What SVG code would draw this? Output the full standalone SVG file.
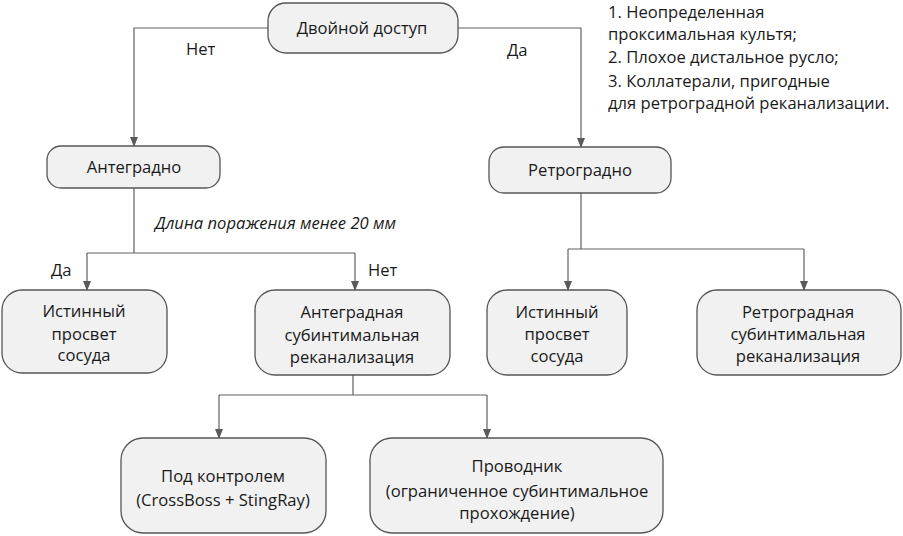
<svg xmlns="http://www.w3.org/2000/svg" width="903" height="536" viewBox="0 0 903 536">
<defs>
<marker id="arr" viewBox="0 0 10 10" refX="9" refY="5" markerWidth="10" markerHeight="10" markerUnits="userSpaceOnUse" orient="auto">
<path d="M0,1 L10,5 L0,9 Z" fill="#5a5a5a"/>
</marker>
<style>
.box{fill:#f1f1f1;stroke:#555;stroke-width:1.3}
.t{font-family:"Open Sans","Noto Sans",sans-serif;font-size:16.6px;fill:#1a1a1a}
.c{text-anchor:middle}
.ln{fill:none;stroke:#606060;stroke-width:1.2}
.i{font-style:italic}
</style>
</defs>
<rect width="903" height="536" fill="#fff"/>
<g id="connectors">
<path class="ln" d="M268,28 H134 V146" marker-end="url(#arr)"/>
<path class="ln" d="M458,28 H581 V147" marker-end="url(#arr)"/>
<path class="ln" d="M134,188 V253"/>
<path class="ln" d="M87,253 H355"/>
<path class="ln" d="M87,253 V290" marker-end="url(#arr)"/>
<path class="ln" d="M355,253 V290" marker-end="url(#arr)"/>
<path class="ln" d="M581,193 V249"/>
<path class="ln" d="M568,249 H804"/>
<path class="ln" d="M568,249 V290" marker-end="url(#arr)"/>
<path class="ln" d="M804,249 V290" marker-end="url(#arr)"/>
<path class="ln" d="M353,375 V395"/>
<path class="ln" d="M219,395 H487"/>
<path class="ln" d="M219,395 V438" marker-end="url(#arr)"/>
<path class="ln" d="M487,395 V438" marker-end="url(#arr)"/>
<text class="t" x="186" y="55">Нет</text>
<text class="t" x="507" y="56">Да</text>
<text class="t i" x="155" y="229">Длина поражения менее 20 мм</text>
<text class="t" x="51" y="276">Да</text>
<text class="t" x="368" y="276">Нет</text>
</g>
<g id="n-dual">
<rect class="box" x="268" y="3" width="190" height="50" rx="18"/>
<text class="t c" x="362" y="34">Двойной доступ</text>
</g>
<g id="n-notes">
<text class="t" x="608" y="18">1. Неопределенная</text>
<text class="t" x="608" y="40">проксимальная культя;</text>
<text class="t" x="608" y="63">2. Плохое дистальное русло;</text>
<text class="t" x="608" y="87">3. Коллатерали, пригодные</text>
<text class="t" x="608" y="109">для ретроградной реканализации.</text>
</g>
<g id="n-ante">
<rect class="box" x="47" y="146" width="173" height="42" rx="14"/>
<text class="t c" x="134" y="173">Антеградно</text>
</g>
<g id="n-retro">
<rect class="box" x="489" y="147" width="182" height="46" rx="15"/>
<text class="t c" x="580" y="176">Ретроградно</text>
</g>
<g id="n-true1">
<rect class="box" x="2" y="290" width="165" height="83" rx="20"/>
<text class="t c" x="84" y="317">Истинный</text>
<text class="t c" x="84" y="340">просвет</text>
<text class="t c" x="84" y="361">сосуда</text>
</g>
<g id="n-antesub">
<rect class="box" x="255" y="290" width="195" height="85" rx="20"/>
<text class="t c" x="352" y="318">Антеградная</text>
<text class="t c" x="352" y="341">субинтимальная</text>
<text class="t c" x="352" y="363">реканализация</text>
</g>
<g id="n-true2">
<rect class="box" x="487" y="290" width="140" height="85" rx="20"/>
<text class="t c" x="557" y="318">Истинный</text>
<text class="t c" x="557" y="340">просвет</text>
<text class="t c" x="557" y="362">сосуда</text>
</g>
<g id="n-retrosub">
<rect class="box" x="697" y="290" width="204" height="85" rx="20"/>
<text class="t c" x="798" y="318">Ретроградная</text>
<text class="t c" x="798" y="340">субинтимальная</text>
<text class="t c" x="798" y="362">реканализация</text>
</g>
<g id="n-control">
<rect class="box" x="121" y="438" width="205" height="95" rx="22"/>
<text class="t c" x="223" y="482">Под контролем</text>
<text class="t c" x="223" y="506">(CrossBoss + StingRay)</text>
</g>
<g id="n-wire">
<rect class="box" x="370" y="438" width="293" height="95" rx="22"/>
<text class="t c" x="517" y="472">Проводник</text>
<text class="t c" x="517" y="497">(ограниченное субинтимальное</text>
<text class="t c" x="517" y="519">прохождение)</text>
</g>
</svg>
